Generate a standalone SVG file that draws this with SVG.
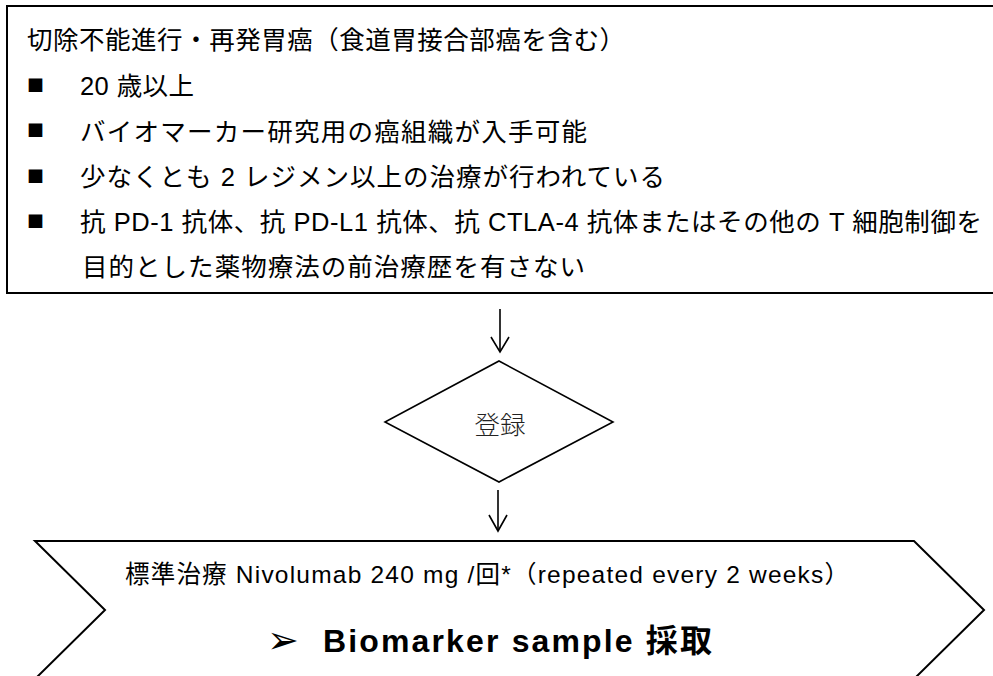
<svg xmlns="http://www.w3.org/2000/svg" width="993" height="676" viewBox="0 0 993 676">
<style>
.box{fill:#fff;stroke:#000;stroke-width:2}
.edge{fill:none;stroke:#000;stroke-width:1.6}
.t{font-family:"Liberation Sans","Noto Sans CJK JP",sans-serif;font-size:25.5px;fill:#000}
.b{font-family:"Noto Sans CJK JP",sans-serif;font-size:17px;fill:#000}
.reg{font-family:"Noto Sans CJK JP",sans-serif;font-size:25.5px;font-weight:300;fill:#222}
.tr{font-family:"Liberation Sans","Noto Sans CJK JP",sans-serif;font-size:24.5px;fill:#000}
.bm{font-family:"Liberation Sans","Noto Sans CJK JP",sans-serif;font-size:32px;font-weight:bold;fill:#000}
</style>
<rect width="993" height="676" fill="#fff"/>
<g id="node-criteria">
<rect class="box" x="7" y="6" width="1000" height="287"/>
<text class="t" x="27" y="49" textLength="598" lengthAdjust="spacing">切除不能進行・再発胃癌（食道胃接合部癌を含む）</text>
<text class="b" x="27" y="92">■</text>
<text class="b" x="27" y="137">■</text>
<text class="b" x="27" y="183">■</text>
<text class="b" x="27" y="228">■</text>
<text class="t" x="80" y="94.5" textLength="114" lengthAdjust="spacing">20 歳以上</text>
<text class="t" x="80" y="140.5" textLength="507" lengthAdjust="spacing">バイオマーカー研究用の癌組織が入手可能</text>
<text class="t" x="80" y="186" textLength="585" lengthAdjust="spacing">少なくとも 2 レジメン以上の治療が行われている</text>
<text class="t" x="80" y="231" textLength="902" lengthAdjust="spacing">抗 PD-1 抗体、抗 PD-L1 抗体、抗 CTLA-4 抗体またはその他の T 細胞制御を</text>
<text class="t" x="82" y="276" textLength="503" lengthAdjust="spacing">目的とした薬物療法の前治療歴を有さない</text>
</g>
<g id="node-register">
<polygon class="box" style="stroke-width:1.6" points="499,361 613,422 499,482 385,422"/>
<text class="reg" x="500" y="434" text-anchor="middle">登録</text>
</g>
<g id="node-treatment">
<polygon class="box" points="35,541 914,541 984,610 914,679 35,679 105,610"/>
<text class="tr" x="125" y="583" textLength="724" lengthAdjust="spacing">標準治療  Nivolumab 240 mg /回*（repeated every 2 weeks）</text>
<text x="267" y="653" style="font-family:'DejaVu Sans',sans-serif;font-size:38px;fill:#000">➢</text>
<text class="bm" x="323" y="652" textLength="389" lengthAdjust="spacing">Biomarker sample 採取</text>
</g>
<g id="connectors">
<line class="edge" x1="500" y1="309" x2="500" y2="352"/>
<polyline class="edge" points="491,337 500,352 509,337"/>
<line class="edge" x1="498" y1="490" x2="498" y2="531"/>
<polyline class="edge" points="489,515 498,531 507,515"/>
</g>
</svg>
